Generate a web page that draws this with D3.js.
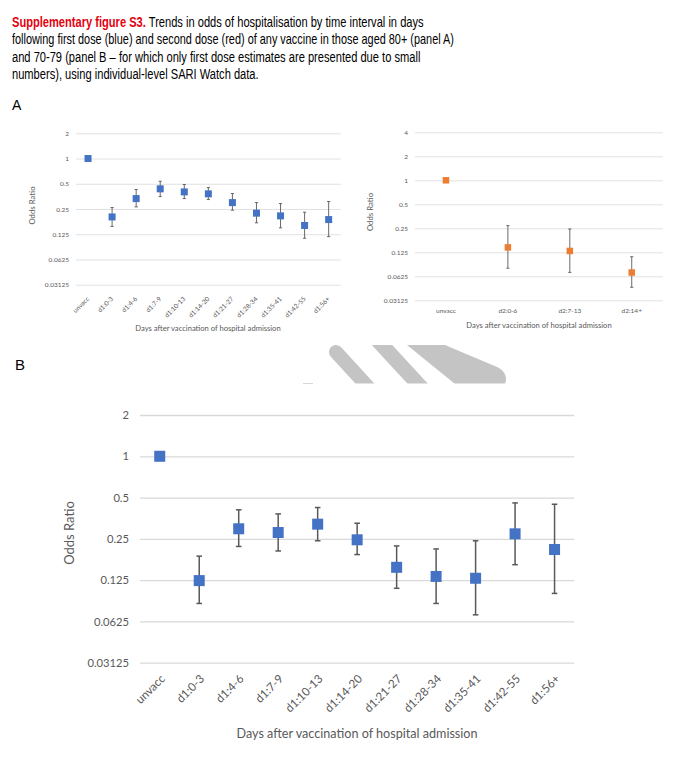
<!DOCTYPE html>
<html>
<head>
<meta charset="utf-8">
<script src="https://cdn.jsdelivr.net/npm/d3@7"></script>
<style>
  body { margin: 0; background: #fff; }
  svg { display: block; }
</style>
</head>
<body>
<div id="chart"></div>
<script>
// ---- data ----
const catsA1 = ["unvacc", "d1:0-3", "d1:4-6", "d1:7-9", "d1:10-13", "d1:14-20",
  "d1:21-27", "d1:28-34", "d1:35-41", "d1:42-55", "d1:56+"];
const orA1 = [1, 0.201, 0.333, 0.435, 0.40, 0.379, 0.298, 0.223, 0.207, 0.159, 0.187];
const loA1 = [null, 0.155, 0.265, 0.352, 0.333, 0.324, 0.242, 0.171, 0.149, 0.112, 0.117];
const hiA1 = [null, 0.26, 0.427, 0.536, 0.49, 0.45, 0.382, 0.298, 0.29, 0.229, 0.307];

const catsA2 = ["unvacc", "d2:0-6", "d2:7-13", "d2:14+"];
const orA2 = [1, 0.144, 0.130, 0.0697];
const loA2 = [null, 0.079, 0.070, 0.0455];
const hiA2 = [null, 0.27, 0.245, 0.110];

const catsB = catsA1;
const orB = [1, 0.124, 0.296, 0.278, 0.320, 0.246, 0.155, 0.133, 0.129, 0.272, 0.209];
const loB = [null, 0.0845, 0.220, 0.204, 0.242, 0.192, 0.109, 0.0845, 0.0698, 0.162, 0.100];
const hiB = [null, 0.187, 0.407, 0.38, 0.423, 0.325, 0.222, 0.211, 0.242, 0.457, 0.447];

const yTicksA1 = [0.03125, 0.0625, 0.125, 0.25, 0.5, 1, 2];
const yTicksA2 = [0.03125, 0.0625, 0.125, 0.25, 0.5, 1, 2, 4];
const yTicksB = yTicksA1;

const headerLines = [
  [["Supplementary figure S3.", true], [" Trends in odds of hospitalisation by time interval in days", false]],
  [["following first dose (blue) and second dose (red) of any vaccine in those aged 80+ (panel A)", false]],
  [["and 70-79 (panel B \u2013 for which only first dose estimates are presented due to small", false]],
  [["numbers), using individual-level SARI Watch data.", false]]
];

const W = 689, H = 777;
const gray = "#595959";
const grid = "#d9d9d9";
const chartFont = "Lato, 'Open Sans', sans-serif";

const svg = d3.select("#chart").append("svg")
  .attr("width", W)
  .attr("height", H);

// header paragraph (the scan is horizontally squeezed, so each line is fitted)
const lineWidths = [412, 442, 409, 247];
headerLines.forEach((parts, i) => {
  const t = svg.append("text")
    .attr("x", 12)
    .attr("y", 27 + i * 17.5)
    .attr("font-family", "'Liberation Sans', Arial, sans-serif")
    .attr("font-size", 15)
    .attr("fill", "#000");
  parts.forEach(p => {
    t.append("tspan")
      .attr("font-weight", p[1] ? "bold" : "normal")
      .attr("fill", p[1] ? "#e3000f" : "#000")
      .text(p[0]);
  });
  const len = t.node().getComputedTextLength();
  const k = lineWidths[i] / len;
  t.attr("transform", `translate(${12 - 12 * k},0) scale(${k},1)`);
});

svg.append("text").attr("x", 12).attr("y", 110)
  .attr("font-family", "'Liberation Sans', Arial, sans-serif")
  .attr("font-size", 14).text("A");
svg.append("text").attr("x", 15).attr("y", 370)
  .attr("font-family", "'Liberation Sans', Arial, sans-serif")
  .attr("font-size", 15).text("B");

// one odds-ratio panel
function drawPanel(o) {
  const g = svg.append("g");

  const x = d3.scaleBand()
    .domain(o.cats)
    .range([o.x0, o.x1]);

  const y = d3.scaleLog()
    .base(2)
    .domain([o.yTicks[0], o.yTicks[o.yTicks.length - 1]])
    .range([o.y1, o.y0]);

  // y axis with gridlines
  const yAxis = g.append("g")
    .attr("transform", `translate(${o.x0},0)`)
    .call(d3.axisLeft(y)
      .tickValues(o.yTicks)
      .tickSize(-(o.x1 - o.x0))
      .tickPadding(o.yPad)
      .tickFormat(d => String(d)));
  yAxis.select(".domain").remove();
  yAxis.selectAll("line").attr("stroke", grid).attr("stroke-width", o.gridW);
  yAxis.selectAll("text")
    .attr("fill", gray)
    .attr("font-family", chartFont)
    .attr("font-size", o.tickFs);

  // x axis labels
  const xAxis = g.append("g")
    .attr("transform", `translate(0,${o.y1})`)
    .call(d3.axisBottom(x).tickSize(0));
  xAxis.select(".domain").remove();
  const xt = xAxis.selectAll("text")
    .attr("fill", gray)
    .attr("font-family", chartFont)
    .attr("font-size", o.xTickFs || o.tickFs);
  if (o.rotate) {
    xt.attr("x", 0).attr("y", 0).attr("dy", "0.35em")
      .attr("transform", `translate(${o.labDx},${o.labOff}) rotate(-45)`)
      .style("text-anchor", "end");
  } else {
    xt.attr("y", o.labOff);
  }

  // axis titles
  g.append("text")
    .attr("x", o.xTitle[0]).attr("y", o.xTitle[1])
    .attr("text-anchor", "middle")
    .attr("fill", gray)
    .attr("font-family", chartFont)
    .attr("font-size", o.titleFs)
    .text("Days after vaccination of hospital admission");
  g.append("text")
    .attr("transform", `translate(${o.yTitle[0]},${o.yTitle[1]}) rotate(-90)`)
    .attr("text-anchor", "middle")
    .attr("fill", gray)
    .attr("font-family", chartFont)
    .attr("font-size", o.yTitleFs)
    .text("Odds Ratio");

  const data = o.cats.map((c, i) => ({ c: c, v: o.or[i], lo: o.lo[i], hi: o.hi[i] }));
  const cx = d => x(d.c) + x.bandwidth() / 2;
  const withCI = data.filter(d => d.lo !== null);

  // error bars
  const eb = g.append("g")
    .attr("stroke", gray)
    .attr("stroke-width", o.barW);
  eb.selectAll(".stem").data(withCI).enter().append("line")
    .attr("x1", cx).attr("x2", cx)
    .attr("y1", d => y(d.lo)).attr("y2", d => y(d.hi));
  eb.selectAll(".capLo").data(withCI).enter().append("line")
    .attr("x1", d => cx(d) - o.cap).attr("x2", d => cx(d) + o.cap)
    .attr("y1", d => y(d.lo)).attr("y2", d => y(d.lo));
  eb.selectAll(".capHi").data(withCI).enter().append("line")
    .attr("x1", d => cx(d) - o.cap).attr("x2", d => cx(d) + o.cap)
    .attr("y1", d => y(d.hi)).attr("y2", d => y(d.hi));

  // square markers
  g.selectAll(".pt").data(data).enter().append("rect")
    .attr("x", d => cx(d) - o.ms / 2)
    .attr("y", d => y(d.v) - o.ms / 2)
    .attr("width", o.ms)
    .attr("height", o.ms)
    .attr("fill", o.color);
}

drawPanel({
  cats: catsA1, or: orA1, lo: loA1, hi: hiA1, yTicks: yTicksA1,
  x0: 76, x1: 340.7, y0: 133.3, y1: 284.7,
  yPad: 7, tickFs: 6.5, titleFs: 7.6, yTitleFs: 7.8, gridW: 0.8,
  rotate: true, labDx: 0, labOff: 13,
  xTitle: [208, 331], yTitle: [35, 205.5],
  color: "#4472C4", ms: 7, cap: 1.6, barW: 0.9
});

drawPanel({
  cats: catsA2, or: orA2, lo: loA2, hi: hiA2, yTicks: yTicksA2,
  x0: 415, x1: 662.7, y0: 132.3, y1: 300.3,
  yPad: 7, tickFs: 6.5, titleFs: 7.6, yTitleFs: 7.8, gridW: 0.8,
  rotate: false, labOff: 8,
  xTitle: [539, 327.5], yTitle: [373, 212],
  color: "#ED7D31", ms: 6.5, cap: 1.6, barW: 0.9
});

drawPanel({
  cats: catsB, or: orB, lo: loB, hi: hiB, yTicks: yTicksB,
  x0: 140, x1: 574.3, y0: 415, y1: 662.7,
  yPad: 11, tickFs: 11.2, xTickFs: 11.6, titleFs: 12.6, yTitleFs: 13, gridW: 1.3,
  rotate: true, labDx: 3, labOff: 14,
  xTitle: [357, 738], yTitle: [74, 533],
  color: "#4472C4", ms: 11, cap: 2.8, barW: 1.5
});

// grey watermark fragment between the panels
const clip = svg.append("clipPath").attr("id", "wmclip");
clip.append("rect").attr("x", 290).attr("y", 345).attr("width", 230).attr("height", 38.5);
const wm = svg.append("g").attr("clip-path", "url(#wmclip)").attr("fill", "none");
wm.append("line").attr("x1", 336).attr("y1", 352).attr("x2", 380).attr("y2", 400)
  .attr("stroke", "#c4c4c4").attr("stroke-width", 14).attr("stroke-linecap", "round");
wm.append("line").attr("x1", 370).attr("y1", 332).attr("x2", 430).attr("y2", 397)
  .attr("stroke", "#c4c4c4").attr("stroke-width", 15);
wm.append("path")
  .attr("d", "M407,345 L445,345 L497,367 Q509,373 505,384 L455,384 Z")
  .attr("fill", "#c4c4c4");
svg.append("line").attr("x1", 303).attr("y1", 383.5).attr("x2", 313).attr("y2", 383.5)
  .attr("stroke", "#d8d8d8").attr("stroke-width", 1);
</script>
</body>
</html>
